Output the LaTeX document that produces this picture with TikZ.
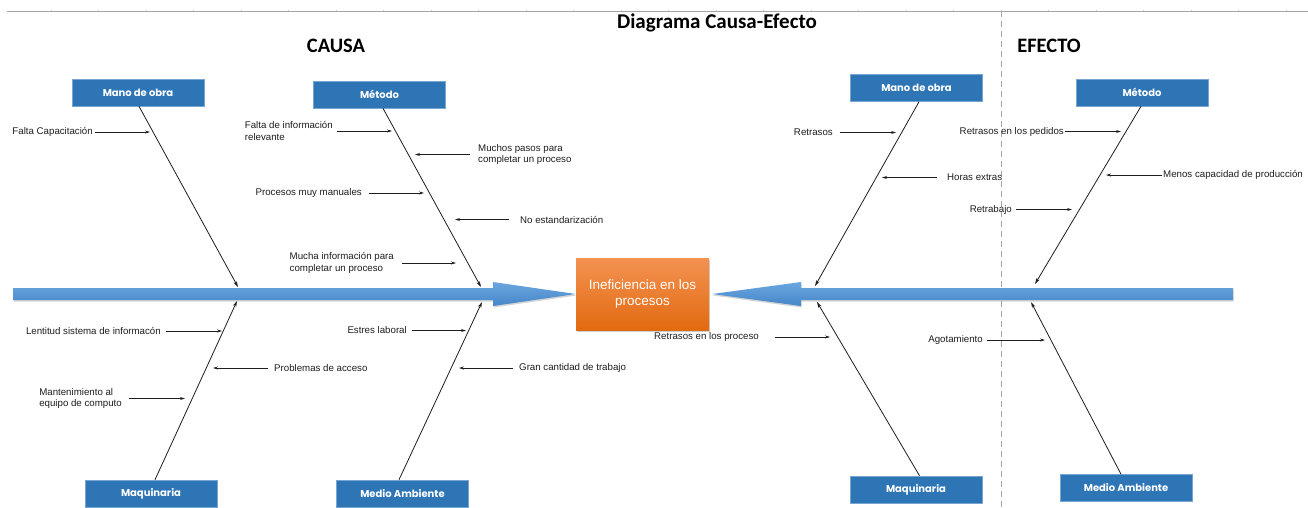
\documentclass[tikz,border=0pt]{standalone}
\usepackage{fontspec}
\setmainfont{Liberation Sans}
\newfontfamily\headfont{Carlito}
\newfontfamily\catfont{Poppins}
\usetikzlibrary{arrows.meta,shadows}

\definecolor{catblue}{RGB}{46,117,182}
\definecolor{catedge}{RGB}{120,165,210}
\definecolor{spinetop}{RGB}{106,166,224}
\definecolor{spinebot}{RGB}{70,134,200}
\definecolor{efftop}{RGB}{244,146,82}
\definecolor{effbot}{RGB}{226,106,16}
\definecolor{rulegray}{RGB}{165,165,165}
\definecolor{tickgray}{RGB}{205,205,205}
\definecolor{ink}{RGB}{30,30,30}

\begin{document}
\begin{tikzpicture}[x=1pt,y=-1pt,
  catbox/.style={fill=catblue, draw=catedge, line width=0.6pt,
    minimum width=132pt, minimum height=27pt, inner sep=0pt, text=white,
    font=\catfont\bfseries\fontsize{10}{12}\selectfont},
  effbox/.style={top color=efftop, bottom color=effbot, draw=none,
    minimum width=133pt, minimum height=72pt, inner sep=0pt, text=white,
    align=center, font=\fontsize{13.5}{16}\selectfont,
    drop shadow={shadow xshift=0.5pt, shadow yshift=-1.5pt, opacity=0.35, fill=black!55}},
  spine/.style={top color=spinetop, bottom color=spinebot, draw=none,
    drop shadow={shadow xshift=0.5pt, shadow yshift=-1.5pt, opacity=0.3, fill=black!55}},
  lbl/.style={inner sep=0pt, align=left, text=ink, font=\fontsize{9.7}{11.5}\selectfont},
  heading/.style={inner sep=0pt, font=\headfont\bfseries\fontsize{20.5}{24}\selectfont},
  bone/.style={-{Stealth[length=6pt,width=3.5pt]}, line width=0.8pt, draw=ink},
  sub/.style={-{Stealth[length=5pt,width=3pt]}, line width=0.7pt, draw=ink},
]
\useasboundingbox (0,0) rectangle (1308,507);
\fill[white] (0,0) rectangle (1308,507);

% sheet ruler and the cause/effect divider
\draw[rulegray, line width=0.8pt] (7,11) -- (1308,11);
\foreach \k in {0,...,26}
  \draw[tickgray, line width=0.5pt] ({51+47.5*\k},9.5) -- ({51+47.5*\k},11);
\draw[rulegray, line width=0.8pt, dash pattern=on 6pt off 4pt] (1001,11) -- (1001,507);

% headings
\node[heading, anchor=base, font=\headfont\bfseries\fontsize{21}{24}\selectfont] (title) at (717,28) {Diagrama Causa-Efecto};
\node[heading, anchor=base] (causa) at (336,52) {CAUSA};
\node[heading, anchor=base] (efecto) at (1049,52) {EFECTO};

% central problem
\node[effbox] (eff) at (642.5,294) {Ineficiencia en los\\procesos};

% spines
\path[spine] (13,288) -- (493,288) -- (493,282) -- (eff.west) -- (493,306) -- (493,300) -- (13,300) -- cycle;
\path[spine] (1233,288) -- (801,288) -- (801,282) -- ([xshift=3pt]eff.east) -- (801,306) -- (801,300) -- (1233,300) -- cycle;

% category boxes
\node[catbox] (mo1) at (138,92.5) {Mano de obra};
\node[catbox] (me1) at (379.5,94.5) {Método};
\node[catbox] (mq1) at (151,493.5) {Maquinaria};
\node[catbox] (ma1) at (402.5,493.5) {Medio Ambiente};
\node[catbox] (mo2) at (916.5,88) {Mano de obra};
\node[catbox] (me2) at (1142,92.5) {Método};
\node[catbox] (mq2) at (916,489.5) {Maquinaria};
\node[catbox] (ma2) at (1126,488) {Medio Ambiente};

% bone ends on the spines
\coordinate (b1) at (238,287);
\coordinate (b2) at (481,287);
\coordinate (b3) at (237,301);
\coordinate (b4) at (482,302);
\coordinate (b5) at (815,286);
\coordinate (b6) at (1035,284);
\coordinate (b7) at (817,302);
\coordinate (b8) at (1031,302);

\draw[bone] ([xshift=1pt]mo1.south) -- (b1);
\draw[bone] ([xshift=3.5pt]me1.south) -- (b2);
\draw[bone] ([xshift=4pt]mq1.north) -- (b3);
\draw[bone] ([xshift=-3.5pt]ma1.north) -- (b4);
\draw[bone] ([xshift=2.5pt]mo2.south) -- (b5);
\draw[bone] ([xshift=-1pt]me2.south) -- (b6);
\draw[bone] ([xshift=3.5pt]mq2.north) -- (b7);
\draw[bone] ([xshift=-5pt]ma2.north) -- (b8);

% causes: Mano de obra
\node[lbl, anchor=east] (c1) at (93,132) {Falta Capacitación};
\coordinate (t1) at (150,132);
\draw[sub, shorten <=2pt] (c1) -- (t1);

% causes: Método
\node[lbl, anchor=east] (c2) at (333,131) {Falta de información\\relevante};
\coordinate (t2) at (392,131);
\draw[sub, shorten <=4pt] (c2) -- (t2);
\node[lbl, anchor=west] (c3) at (478,154.5) {Muchos pasos para\\completar un proceso};
\coordinate (t3) at (415,154.5);
\draw[sub, shorten <=8pt] (c3) -- (t3);
\node[lbl, anchor=east] (c4) at (362,193) {Procesos muy manuales};
\coordinate (t4) at (424,193);
\draw[sub, shorten <=7pt] (c4) -- (t4);
\node[lbl, anchor=west] (c5) at (520,219.5) {No estandarización};
\coordinate (t5) at (455,219.5);
\draw[sub, shorten <=11pt] (c5) -- (t5);
\node[lbl, anchor=east] (c6) at (394,263) {Mucha información para\\completar un proceso};
\coordinate (t6) at (456,263);
\draw[sub, shorten <=8pt] (c6) -- (t6);

% causes: Maquinaria
\node[lbl, anchor=east] (c7) at (161,331) {Lentitud sistema de informacón};
\coordinate (t7) at (222,331);
\draw[sub, shorten <=5pt] (c7) -- (t7);
\node[lbl, anchor=west] (c8) at (274,368) {Problemas de acceso};
\coordinate (t8) at (213,368);
\draw[sub, shorten <=6pt] (c8) -- (t8);
\node[lbl, anchor=east] (c9) at (122,398.5) {Mantenimiento al\\equipo de computo};
\coordinate (t9) at (185,398.5);
\draw[sub, shorten <=7pt] (c9) -- (t9);

% causes: Medio Ambiente
\node[lbl, anchor=east] (c10) at (407,330.5) {Estres laboral};
\coordinate (t10) at (466,330.5);
\draw[sub, shorten <=5pt] (c10) -- (t10);
\node[lbl, anchor=west] (c11) at (519,368) {Gran cantidad de trabajo};
\coordinate (t11) at (459,368);
\draw[sub, shorten <=6pt] (c11) -- (t11);

% effects: Mano de obra
\node[lbl, anchor=east] (e1) at (833,132.5) {Retrasos};
\coordinate (u1) at (896,132.5);
\draw[sub, shorten <=7pt] (e1) -- (u1);
\node[lbl, anchor=west] (e2) at (947,177.5) {Horas extras};
\coordinate (u2) at (882,177.5);
\draw[sub, shorten <=10pt] (e2) -- (u2);

% effects: Maquinaria
\node[lbl, anchor=east] (e3) at (759,337) {Retrasos en los proceso};
\coordinate (u3) at (830,337);
\draw[sub, shorten <=16pt] (e3) -- (u3);

% effects: Método
\node[lbl, anchor=east] (e4) at (1064,131.5) {Retrasos en los pedidos};
\coordinate (u4) at (1121,131.5);
\draw[sub, shorten <=1pt] (e4) -- (u4);
\node[lbl, anchor=west] (e5) at (1163,175) {Menos capacidad de producción};
\coordinate (u5) at (1106,175);
\draw[sub, shorten <=1pt] (e5) -- (u5);
\node[lbl, anchor=east] (e6) at (1012,209.5) {Retrabajo};
\coordinate (u6) at (1072,209.5);
\draw[sub, shorten <=4pt] (e6) -- (u6);

% effects: Medio Ambiente
\node[lbl, anchor=east] (e7) at (983,340) {Agotamiento};
\coordinate (u7) at (1045,340);
\draw[sub, shorten <=4pt] (e7) -- (u7);
\end{tikzpicture}
\end{document}
